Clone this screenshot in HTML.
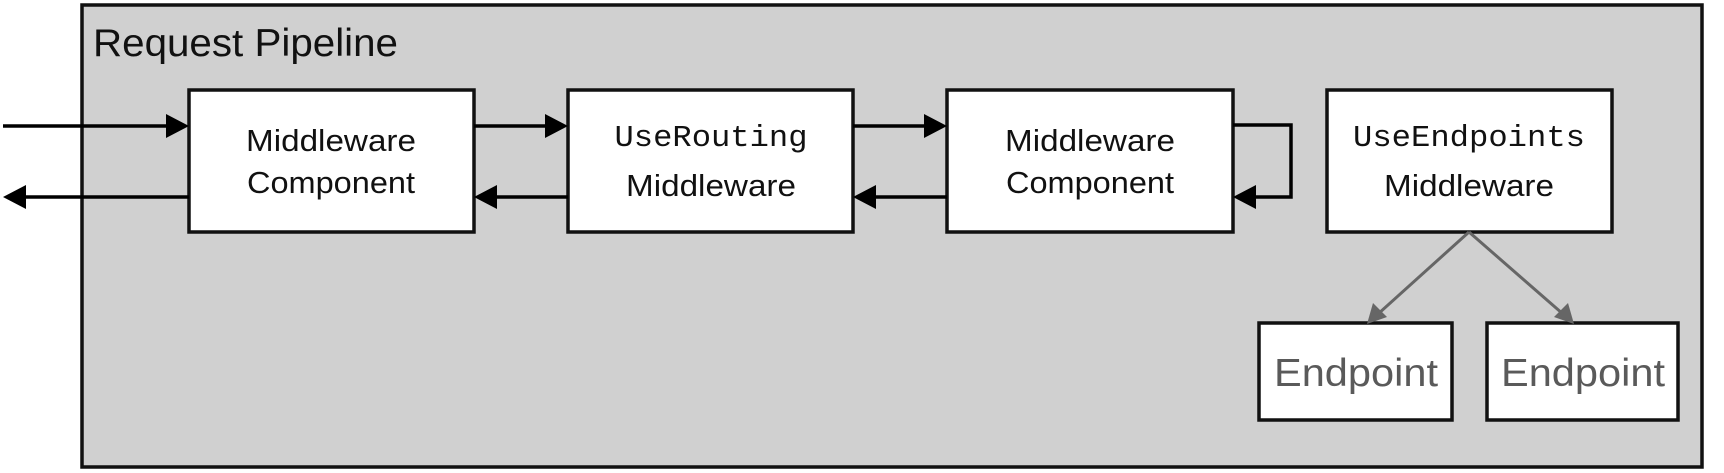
<!DOCTYPE html>
<html><head><meta charset="utf-8"><style>html,body{margin:0;padding:0;background:#fff;}svg{display:block}</style></head>
<body>
<svg width="1724" height="473" viewBox="0 0 1724 473" xmlns="http://www.w3.org/2000/svg">
<rect x="82" y="5" width="1620" height="462" fill="#d0d0d0" stroke="#111" stroke-width="3.5"/>
<text x="93" y="56" font-family="Liberation Sans, sans-serif" font-size="39" fill="#111" textLength="305" lengthAdjust="spacingAndGlyphs">Request Pipeline</text>
<g fill="#fff" stroke="#111" stroke-width="3.5">
<rect x="189" y="90" width="285" height="142"/>
<rect x="568" y="90" width="285" height="142"/>
<rect x="947" y="90" width="286" height="142"/>
<rect x="1327" y="90" width="285" height="142"/>
<rect x="1259" y="323" width="193" height="97"/>
<rect x="1487" y="323" width="191" height="97"/>
</g>
<g stroke="#000" stroke-width="3.5" fill="none">
<line x1="3" y1="126" x2="167" y2="126"/>
<line x1="474" y1="126" x2="546" y2="126"/>
<line x1="853" y1="126" x2="925" y2="126"/>
<line x1="189" y1="197" x2="25" y2="197"/>
<line x1="568" y1="197" x2="496" y2="197"/>
<line x1="947" y1="197" x2="875" y2="197"/>
<polyline points="1233,125 1291,125 1291,197 1255,197"/>
</g>
<g fill="#000">
<path d="M189,126 L166,114 L166,138 z"/>
<path d="M568,126 L545,114 L545,138 z"/>
<path d="M947,126 L924,114 L924,138 z"/>
<path d="M3,197 L26,185 L26,209 z"/>
<path d="M474,197 L497,185 L497,209 z"/>
<path d="M853,197 L876,185 L876,209 z"/>
<path d="M1233,197 L1256,185 L1256,209 z"/>
</g>
<g stroke="#666" stroke-width="3">
<line x1="1469" y1="232" x2="1378" y2="314"/>
<line x1="1469" y1="232" x2="1563" y2="314"/>
</g>
<g fill="#666">
<path d="M1367,324 L1373,303 L1387,317 z"/>
<path d="M1574,324 L1554,317 L1568,303 z"/>
</g>
<g font-size="31" fill="#111" text-anchor="middle">
<text x="331" y="151" font-family="Liberation Sans, sans-serif" textLength="170" lengthAdjust="spacingAndGlyphs">Middleware</text>
<text x="331" y="193" font-family="Liberation Sans, sans-serif" textLength="168" lengthAdjust="spacingAndGlyphs">Component</text>
<text x="711" y="146" font-family="Liberation Mono, monospace" textLength="193" lengthAdjust="spacingAndGlyphs">UseRouting</text>
<text x="711" y="196" font-family="Liberation Sans, sans-serif" textLength="170" lengthAdjust="spacingAndGlyphs">Middleware</text>
<text x="1090" y="151" font-family="Liberation Sans, sans-serif" textLength="170" lengthAdjust="spacingAndGlyphs">Middleware</text>
<text x="1090" y="193" font-family="Liberation Sans, sans-serif" textLength="168" lengthAdjust="spacingAndGlyphs">Component</text>
<text x="1469" y="146" font-family="Liberation Mono, monospace" textLength="232" lengthAdjust="spacingAndGlyphs">UseEndpoints</text>
<text x="1469" y="196" font-family="Liberation Sans, sans-serif" textLength="170" lengthAdjust="spacingAndGlyphs">Middleware</text>
</g>
<g font-size="39" fill="#5a5a5a" font-family="Liberation Sans, sans-serif" text-anchor="middle">
<text x="1356" y="386" textLength="164" lengthAdjust="spacingAndGlyphs">Endpoint</text>
<text x="1583" y="386" textLength="164" lengthAdjust="spacingAndGlyphs">Endpoint</text>
</g>
</svg>
</body></html>
